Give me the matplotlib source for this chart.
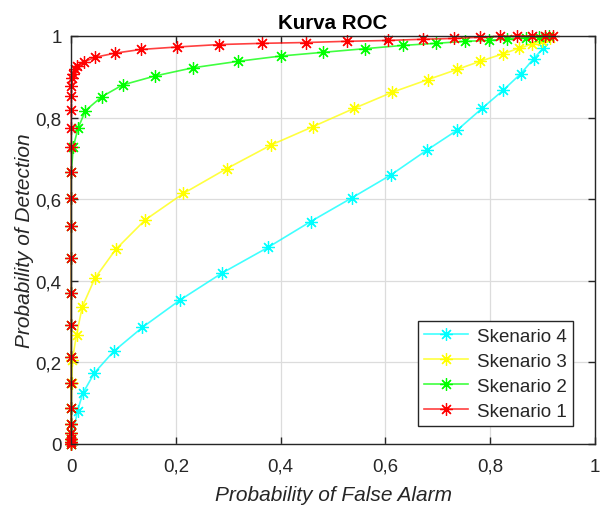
import matplotlib
matplotlib.use("Agg")
import matplotlib.pyplot as plt

plt.rcParams['font.family'] = ['Liberation Sans', 'DejaVu Sans']

# Skenario 4 (cyan)
pfa4 = [0, 0.012, 0.022, 0.044, 0.081, 0.136, 0.208, 0.288, 0.376, 0.457, 0.537,
        0.610, 0.679, 0.737, 0.785, 0.825, 0.859, 0.883, 0.902]
pd4 = [0, 0.082, 0.124, 0.174, 0.227, 0.286, 0.353, 0.419, 0.482, 0.545, 0.604,
       0.659, 0.720, 0.769, 0.823, 0.867, 0.908, 0.944, 0.971]

# Skenario 3 (yellow)
pfa3 = [0, 0, 0, 0, 0, 0.001, 0.002, 0.010, 0.021, 0.045, 0.085, 0.141, 0.214,
        0.297, 0.382, 0.462, 0.541, 0.613, 0.681, 0.737, 0.781, 0.824, 0.855,
        0.880, 0.900, 0.915]
pd3 = [0, 0.012, 0.027, 0.049, 0.088, 0.149, 0.205, 0.268, 0.336, 0.406, 0.477,
       0.549, 0.614, 0.675, 0.733, 0.778, 0.823, 0.862, 0.893, 0.918, 0.938,
       0.956, 0.970, 0.980, 0.988, 0.995]

# Skenario 2 (green)
pfa2 = [0, 0, 0, 0, 0, 0, 0, 0, 0, 0, 0, 0, 0, 0, 0.004, 0.013, 0.027, 0.058,
        0.098, 0.160, 0.232, 0.319, 0.401, 0.481, 0.562, 0.634, 0.697, 0.753,
        0.797, 0.833, 0.869, 0.894, 0.913]
pd2 = [0, 0.004, 0.012, 0.027, 0.049, 0.088, 0.149, 0.214, 0.292, 0.371, 0.455,
       0.534, 0.604, 0.667, 0.729, 0.774, 0.817, 0.851, 0.880, 0.902, 0.922,
       0.938, 0.951, 0.960, 0.969, 0.977, 0.982, 0.987, 0.989, 0.993, 0.996,
       0.998, 1.0]

# Skenario 1 (red)
pfa1 = [0, 0, 0, 0, 0, 0, 0, 0, 0, 0, 0, 0, 0, 0, 0, 0, 0, 0, 0, 0.002, 0.004,
        0.008, 0.011, 0.025, 0.046, 0.084, 0.133, 0.202, 0.282, 0.364, 0.448,
        0.527, 0.605, 0.671, 0.732, 0.780, 0.818, 0.851, 0.881, 0.904, 0.921]
pd1 = [0, 0.004, 0.012, 0.027, 0.049, 0.088, 0.149, 0.214, 0.292, 0.371, 0.455,
       0.534, 0.604, 0.667, 0.729, 0.775, 0.818, 0.852, 0.878, 0.897, 0.908,
       0.918, 0.926, 0.937, 0.948, 0.958, 0.967, 0.973, 0.979, 0.982, 0.984,
       0.987, 0.989, 0.992, 0.994, 0.997, 0.999, 1.0, 1.0, 1.0, 1.0]

series = [
    ("Skenario 4", pfa4, pd4, (0, 1, 1)),
    ("Skenario 3", pfa3, pd3, (1, 1, 0)),
    ("Skenario 2", pfa2, pd2, (0, 1, 0)),
    ("Skenario 1", pfa1, pd1, (1, 0, 0)),
]

ticks = [0, 0.2, 0.4, 0.6, 0.8, 1]
tick_labels = ["0", "0,2", "0,4", "0,6", "0,8", "1"]

fig = plt.figure(figsize=(6.0, 5.06), dpi=100)
ax = fig.add_axes([0.1188, 0.1206, 0.8725, 0.8063])

dark = '#262626'
for name, x, y, c in series:
    ax.plot(x, y, color=c + (0.75,), lw=1.2, marker=(8, 2, 0), markersize=9,
            markeredgecolor=c, markerfacecolor=c, markeredgewidth=0.9,
            label=name, clip_on=False)

ax.set_xlim(0, 1)
ax.set_ylim(0, 1)
ax.set_xticks(ticks)
ax.set_xticklabels(tick_labels)
ax.set_yticks(ticks)
ax.set_yticklabels(tick_labels)
ax.grid(True, color='#dcdcdc', lw=0.9)
ax.set_axisbelow(True)
ax.tick_params(direction='in', length=5, width=1, colors=dark, labelsize=13.5,
               top=True, right=True)
ax.tick_params(axis='x', pad=10)
ax.tick_params(axis='y', pad=7)
for s in ax.spines.values():
    s.set_color(dark)
    s.set_linewidth(1.0)

ax.set_title("Kurva ROC", fontsize=14.8, fontweight='bold', color='black', pad=6)
ax.set_xlabel("Probability of False Alarm", fontsize=15, style='italic', color=dark, labelpad=7)
ax.set_ylabel("Probability of Detection", fontsize=15, style='italic', color=dark, labelpad=1)

leg = ax.legend(loc='lower right', bbox_to_anchor=(0.959, 0.043), fontsize=13.5,
                frameon=True, fancybox=False, framealpha=1, edgecolor=dark,
                handlelength=2.3, borderpad=0.35, labelspacing=0.42,
                handletextpad=0.5, borderaxespad=0)
leg.get_frame().set_linewidth(1.0)
for t in leg.get_texts():
    t.set_color(dark)

fig.savefig("out.png", dpi=100)
